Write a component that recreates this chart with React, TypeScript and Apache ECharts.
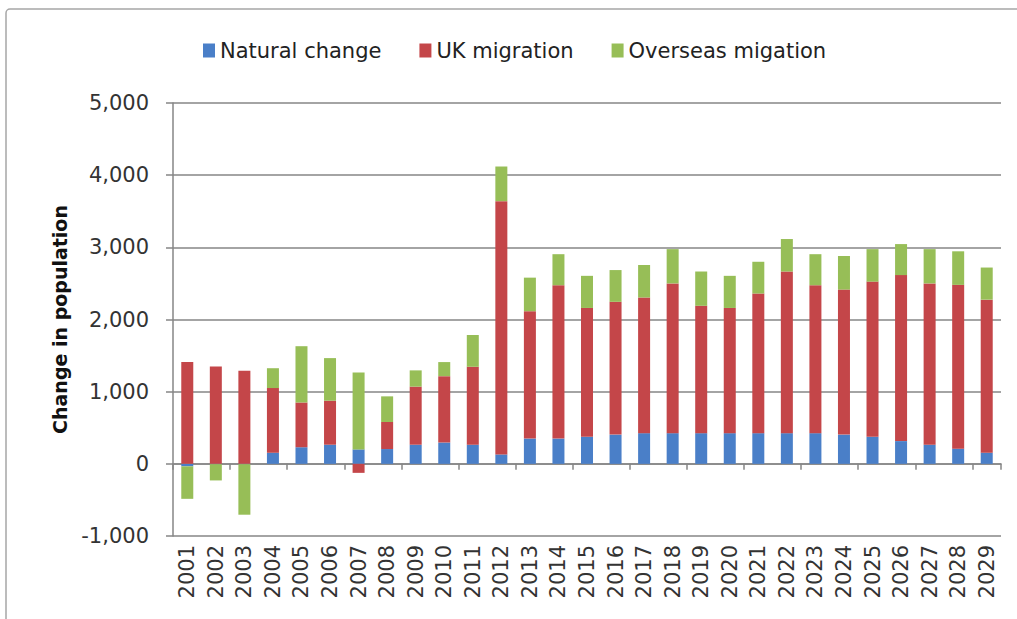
import React, { useEffect, useRef } from "react";
import * as echarts from "echarts";

const years = [
  "2001", "2002", "2003", "2004", "2005", "2006", "2007", "2008", "2009", "2010",
  "2011", "2012", "2013", "2014", "2015", "2016", "2017", "2018", "2019", "2020",
  "2021", "2022", "2023", "2024", "2025", "2026", "2027", "2028", "2029",
];

const naturalChange = [
  -35, -5, -5, 155, 230, 265, 200, 205, 265, 295,
  265, 130, 350, 350, 375, 405, 425, 425, 425, 425,
  425, 425, 425, 405, 375, 315, 265, 210, 155,
];

const ukMigration = [
  1410, 1350, 1290, 895, 620, 610, -125, 375, 805, 920,
  1080, 3510, 1765, 2125, 1785, 1840, 1880, 2075, 1765, 1735,
  1935, 2240, 2050, 2010, 2150, 2300, 2235, 2270, 2120,
];

const overseasMigration = [
  -450, -225, -700, 275, 780, 590, 1065, 355, 225, 195,
  440, 480, 465, 430, 445, 440, 450, 475, 475, 445,
  440, 450, 430, 465, 450, 430, 475, 465, 445,
];

const seriesNames = ["Natural change", "UK migration", "Overseas migation"];
const seriesColors = ["#4A7FC8", "#C44649", "#97BE57"];

export default function App() {
  const ref = useRef<HTMLDivElement>(null);

  useEffect(() => {
    if (!ref.current) return;
    const chart = echarts.init(ref.current, undefined, { renderer: "svg" });
    const font = "DejaVu Sans";
    const dataSets = [naturalChange, ukMigration, overseasMigration];
    chart.setOption({
      animation: false,
      backgroundColor: "#ffffff",
      textStyle: { fontFamily: font },
      graphic: [
        {
          type: "rect",
          shape: { x: 6, y: 9, width: 1200, height: 800, r: 4 },
          style: { fill: "none", stroke: "#a6a6a6", lineWidth: 1.5 },
          silent: true,
        },
      ],
      legend: {
        left: 198,
        top: 35,
        itemWidth: 12,
        itemHeight: 14,
        itemGap: 38,
        textStyle: { fontSize: 21, color: "#222", fontFamily: font },
        data: seriesNames,
        icon: "rect",
      },
      grid: { left: 173, right: 16, top: 103, bottom: 83, containLabel: false },
      xAxis: [
        {
          type: "category",
          data: years,
          position: "bottom",
          axisLine: { onZero: true, lineStyle: { color: "#868686", width: 1.5 } },
          axisTick: { show: true, length: 6, lineStyle: { color: "#868686", width: 1.5 } },
          axisLabel: { show: false },
          splitLine: { show: false },
        },
        {
          type: "category",
          data: years,
          position: "bottom",
          axisLine: { show: false, onZero: false },
          axisTick: { show: false },
          axisLabel: {
            show: true,
            interval: 0,
            rotate: 90,
            margin: 9,
            fontSize: 21,
            color: "#333",
            fontFamily: font,
          },
        },
      ],
      yAxis: {
        type: "value",
        min: -1000,
        max: 5000,
        interval: 1000,
        name: "Change in population",
        nameLocation: "middle",
        nameGap: 104,
        nameTextStyle: { fontSize: 19, fontWeight: "bold", color: "#111", fontFamily: font },
        axisLine: { show: true, lineStyle: { color: "#868686", width: 1.5 } },
        axisTick: { show: true, length: 7, lineStyle: { color: "#868686", width: 1.5 } },
        axisLabel: {
          fontSize: 21,
          color: "#333",
          margin: 24,
          fontFamily: font,
          formatter: (v: number) => v.toLocaleString("en-US"),
        },
        splitLine: { show: true, lineStyle: { color: "#868686", width: 1.5 } },
      },
      series: seriesNames.map((name, i) => ({
        name,
        type: "bar",
        stack: "total",
        xAxisIndex: 0,
        barWidth: 12,
        itemStyle: { color: seriesColors[i] },
        data: dataSets[i],
      })),
    });
    return () => chart.dispose();
  }, []);

  return (
    <div
      ref={ref}
      style={{ position: "fixed", left: 0, top: 0, width: 1017, height: 619 }}
    />
  );
}
